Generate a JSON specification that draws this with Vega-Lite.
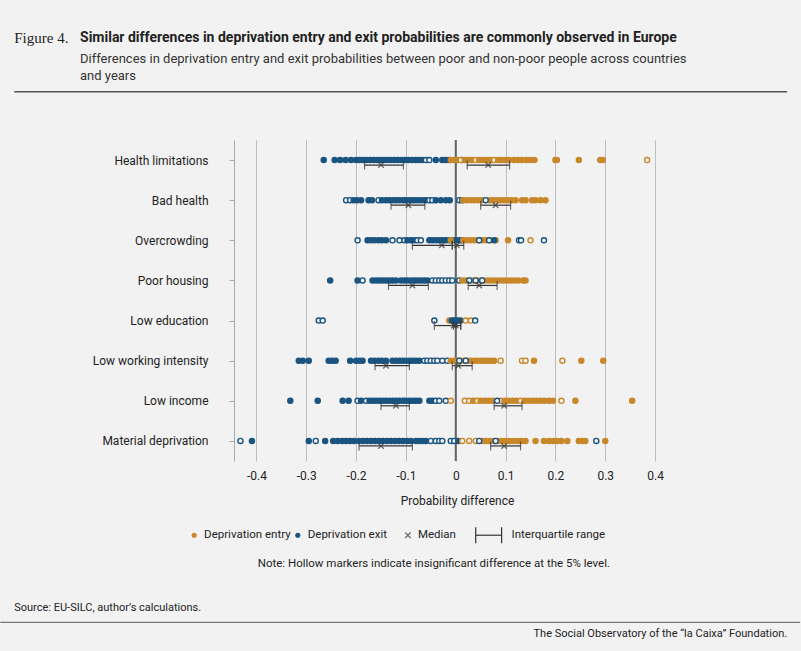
{
  "$schema": "https://vega.github.io/schema/vega-lite/v6.json",
  "width": 446,
  "height": 321,
  "padding": {"left": 234, "top": 140, "right": 121, "bottom": 190},
  "autosize": {"type": "none"},
  "background": "#f2f2f2",
  "config": {"view": {"stroke": null}, "font": "Roboto", "text": {"font": "Roboto"}},
  "datasets": {
    "one": [{}],
    "pts": [
      {"c":"Health limitations","s":"exit","v":-0.265},{"c":"Health limitations","s":"exit","v":-0.243},{"c":"Health limitations","s":"exit","v":-0.232},{"c":"Health limitations","s":"exit","v":-0.221},{"c":"Health limitations","s":"exit","v":-0.21},{"c":"Health limitations","s":"exit","v":-0.2},{"c":"Health limitations","s":"exit","v":-0.193},{"c":"Health limitations","s":"exit","v":-0.186},{"c":"Health limitations","s":"exit","v":-0.179},{"c":"Health limitations","s":"exit","v":-0.172},{"c":"Health limitations","s":"exit","v":-0.165},{"c":"Health limitations","s":"exit","v":-0.158},{"c":"Health limitations","s":"exit","v":-0.151},{"c":"Health limitations","s":"exit","v":-0.144},{"c":"Health limitations","s":"exit","v":-0.137},{"c":"Health limitations","s":"exit","v":-0.13},{"c":"Health limitations","s":"exit","v":-0.123},{"c":"Health limitations","s":"exit","v":-0.116},{"c":"Health limitations","s":"exit","v":-0.109},{"c":"Health limitations","s":"exit","v":-0.102},{"c":"Health limitations","s":"exit","v":-0.095},{"c":"Health limitations","s":"exit","v":-0.088},{"c":"Health limitations","s":"exit","v":-0.081},{"c":"Health limitations","s":"exit","v":-0.074},{"c":"Health limitations","s":"exit","v":-0.067},{"c":"Health limitations","s":"exit","v":-0.06,"h":1},{"c":"Health limitations","s":"exit","v":-0.053,"h":1},{"c":"Health limitations","s":"exit","v":-0.04},{"c":"Health limitations","s":"exit","v":-0.027},{"c":"Health limitations","s":"exit","v":-0.02},{"c":"Health limitations","s":"exit","v":-0.013},{"c":"Health limitations","s":"exit","v":0.013,"h":1},
      {"c":"Health limitations","s":"entry","v":-0.01},{"c":"Health limitations","s":"entry","v":-0.004},{"c":"Health limitations","s":"entry","v":0.003},{"c":"Health limitations","s":"entry","v":0.01,"h":1},{"c":"Health limitations","s":"entry","v":0.018},{"c":"Health limitations","s":"entry","v":0.025},{"c":"Health limitations","s":"entry","v":0.032},{"c":"Health limitations","s":"entry","v":0.04,"h":1},{"c":"Health limitations","s":"entry","v":0.047},{"c":"Health limitations","s":"entry","v":0.055},{"c":"Health limitations","s":"entry","v":0.062},{"c":"Health limitations","s":"entry","v":0.07},{"c":"Health limitations","s":"entry","v":0.077,"h":1},{"c":"Health limitations","s":"entry","v":0.085},{"c":"Health limitations","s":"entry","v":0.092},{"c":"Health limitations","s":"entry","v":0.1},{"c":"Health limitations","s":"entry","v":0.107},{"c":"Health limitations","s":"entry","v":0.117},{"c":"Health limitations","s":"entry","v":0.125},{"c":"Health limitations","s":"entry","v":0.133},{"c":"Health limitations","s":"entry","v":0.142},{"c":"Health limitations","s":"entry","v":0.15},{"c":"Health limitations","s":"entry","v":0.158},{"c":"Health limitations","s":"entry","v":0.2},{"c":"Health limitations","s":"entry","v":0.203},{"c":"Health limitations","s":"entry","v":0.247},{"c":"Health limitations","s":"entry","v":0.29},{"c":"Health limitations","s":"entry","v":0.295},{"c":"Health limitations","s":"entry","v":0.384,"h":1},

      {"c":"Bad health","s":"exit","v":-0.22,"h":1},{"c":"Bad health","s":"exit","v":-0.212,"h":1},{"c":"Bad health","s":"exit","v":-0.205},{"c":"Bad health","s":"exit","v":-0.198},{"c":"Bad health","s":"exit","v":-0.19},{"c":"Bad health","s":"exit","v":-0.175},{"c":"Bad health","s":"exit","v":-0.168},{"c":"Bad health","s":"exit","v":-0.155,"h":1},{"c":"Bad health","s":"exit","v":-0.148},{"c":"Bad health","s":"exit","v":-0.14},{"c":"Bad health","s":"exit","v":-0.133},{"c":"Bad health","s":"exit","v":-0.126},{"c":"Bad health","s":"exit","v":-0.12},{"c":"Bad health","s":"exit","v":-0.113},{"c":"Bad health","s":"exit","v":-0.106},{"c":"Bad health","s":"exit","v":-0.1},{"c":"Bad health","s":"exit","v":-0.093},{"c":"Bad health","s":"exit","v":-0.086},{"c":"Bad health","s":"exit","v":-0.08},{"c":"Bad health","s":"exit","v":-0.073},{"c":"Bad health","s":"exit","v":-0.066},{"c":"Bad health","s":"exit","v":-0.06},{"c":"Bad health","s":"exit","v":-0.053,"h":1},{"c":"Bad health","s":"exit","v":-0.047,"h":1},{"c":"Bad health","s":"exit","v":-0.04},{"c":"Bad health","s":"exit","v":-0.03},{"c":"Bad health","s":"exit","v":-0.02},{"c":"Bad health","s":"exit","v":-0.012},{"c":"Bad health","s":"exit","v":0.007,"h":1},{"c":"Bad health","s":"exit","v":0.013,"h":1},
      {"c":"Bad health","s":"entry","v":0.015},{"c":"Bad health","s":"entry","v":0.022},{"c":"Bad health","s":"entry","v":0.03},{"c":"Bad health","s":"entry","v":0.037},{"c":"Bad health","s":"entry","v":0.045},{"c":"Bad health","s":"entry","v":0.052},{"c":"Bad health","s":"entry","v":0.068},{"c":"Bad health","s":"entry","v":0.075},{"c":"Bad health","s":"entry","v":0.082},{"c":"Bad health","s":"entry","v":0.09},{"c":"Bad health","s":"entry","v":0.097},{"c":"Bad health","s":"entry","v":0.105},{"c":"Bad health","s":"entry","v":0.112},{"c":"Bad health","s":"entry","v":0.12},{"c":"Bad health","s":"entry","v":0.133},{"c":"Bad health","s":"entry","v":0.14},{"c":"Bad health","s":"entry","v":0.153},{"c":"Bad health","s":"entry","v":0.16},{"c":"Bad health","s":"entry","v":0.17},{"c":"Bad health","s":"entry","v":0.18},{"c":"Bad health","s":"exit","v":0.06,"h":1},

      {"c":"Overcrowding","s":"exit","v":-0.197,"h":1},{"c":"Overcrowding","s":"exit","v":-0.177},{"c":"Overcrowding","s":"exit","v":-0.17},{"c":"Overcrowding","s":"exit","v":-0.163},{"c":"Overcrowding","s":"exit","v":-0.155},{"c":"Overcrowding","s":"exit","v":-0.148},{"c":"Overcrowding","s":"exit","v":-0.14},{"c":"Overcrowding","s":"exit","v":-0.127,"h":1},{"c":"Overcrowding","s":"exit","v":-0.113,"h":1},{"c":"Overcrowding","s":"exit","v":-0.103,"h":1},{"c":"Overcrowding","s":"exit","v":-0.097},{"c":"Overcrowding","s":"exit","v":-0.09},{"c":"Overcrowding","s":"exit","v":-0.083},{"c":"Overcrowding","s":"exit","v":-0.077,"h":1},{"c":"Overcrowding","s":"exit","v":-0.07,"h":1},{"c":"Overcrowding","s":"exit","v":-0.053},{"c":"Overcrowding","s":"exit","v":-0.047},{"c":"Overcrowding","s":"exit","v":-0.04},{"c":"Overcrowding","s":"exit","v":-0.033},{"c":"Overcrowding","s":"exit","v":-0.027},{"c":"Overcrowding","s":"exit","v":-0.02},{"c":"Overcrowding","s":"exit","v":-0.013},{"c":"Overcrowding","s":"exit","v":-0.007},{"c":"Overcrowding","s":"exit","v":0.0},{"c":"Overcrowding","s":"exit","v":0.007},{"c":"Overcrowding","s":"exit","v":0.013},
      {"c":"Overcrowding","s":"entry","v":-0.01},{"c":"Overcrowding","s":"entry","v":0.015},{"c":"Overcrowding","s":"entry","v":0.022},{"c":"Overcrowding","s":"entry","v":0.03},{"c":"Overcrowding","s":"entry","v":0.037},{"c":"Overcrowding","s":"entry","v":0.045,"h":1},{"c":"Overcrowding","s":"entry","v":0.053},{"c":"Overcrowding","s":"entry","v":0.06},{"c":"Overcrowding","s":"entry","v":0.068,"h":1},{"c":"Overcrowding","s":"entry","v":0.08},{"c":"Overcrowding","s":"entry","v":0.105},{"c":"Overcrowding","s":"entry","v":0.15,"h":1},
      {"c":"Overcrowding","s":"exit","v":0.047,"h":1},{"c":"Overcrowding","s":"exit","v":0.067,"h":1},{"c":"Overcrowding","s":"exit","v":0.077},{"c":"Overcrowding","s":"exit","v":0.127,"h":1},{"c":"Overcrowding","s":"exit","v":0.131,"h":1},{"c":"Overcrowding","s":"exit","v":0.177,"h":1},

      {"c":"Poor housing","s":"exit","v":-0.252},{"c":"Poor housing","s":"exit","v":-0.197},{"c":"Poor housing","s":"exit","v":-0.187,"h":1},{"c":"Poor housing","s":"exit","v":-0.167},{"c":"Poor housing","s":"exit","v":-0.16},{"c":"Poor housing","s":"exit","v":-0.153},{"c":"Poor housing","s":"exit","v":-0.147},{"c":"Poor housing","s":"exit","v":-0.14},{"c":"Poor housing","s":"exit","v":-0.133},{"c":"Poor housing","s":"exit","v":-0.127},{"c":"Poor housing","s":"exit","v":-0.12},{"c":"Poor housing","s":"exit","v":-0.11},{"c":"Poor housing","s":"exit","v":-0.103},{"c":"Poor housing","s":"exit","v":-0.097},{"c":"Poor housing","s":"exit","v":-0.09},{"c":"Poor housing","s":"exit","v":-0.083},{"c":"Poor housing","s":"exit","v":-0.077},{"c":"Poor housing","s":"exit","v":-0.07},{"c":"Poor housing","s":"exit","v":-0.063},{"c":"Poor housing","s":"exit","v":-0.057},{"c":"Poor housing","s":"exit","v":-0.047,"h":1},{"c":"Poor housing","s":"exit","v":-0.04,"h":1},{"c":"Poor housing","s":"exit","v":-0.033,"h":1},{"c":"Poor housing","s":"exit","v":-0.027,"h":1},{"c":"Poor housing","s":"exit","v":-0.02,"h":1},{"c":"Poor housing","s":"exit","v":-0.013,"h":1},{"c":"Poor housing","s":"exit","v":-0.007,"h":1},{"c":"Poor housing","s":"exit","v":0.007,"h":1},
      {"c":"Poor housing","s":"entry","v":0.013},{"c":"Poor housing","s":"entry","v":0.02},{"c":"Poor housing","s":"entry","v":0.028},{"c":"Poor housing","s":"entry","v":0.035},{"c":"Poor housing","s":"entry","v":0.042},{"c":"Poor housing","s":"entry","v":0.05},{"c":"Poor housing","s":"entry","v":0.057},{"c":"Poor housing","s":"entry","v":0.065},{"c":"Poor housing","s":"entry","v":0.072},{"c":"Poor housing","s":"entry","v":0.08},{"c":"Poor housing","s":"entry","v":0.087},{"c":"Poor housing","s":"entry","v":0.095},{"c":"Poor housing","s":"entry","v":0.102},{"c":"Poor housing","s":"entry","v":0.11},{"c":"Poor housing","s":"entry","v":0.117},{"c":"Poor housing","s":"entry","v":0.125},{"c":"Poor housing","s":"entry","v":0.135},{"c":"Poor housing","s":"entry","v":0.14},
      {"c":"Poor housing","s":"exit","v":0.027,"h":1},{"c":"Poor housing","s":"exit","v":0.04,"h":1},{"c":"Poor housing","s":"exit","v":0.053,"h":1},

      {"c":"Low education","s":"exit","v":-0.275,"h":1},{"c":"Low education","s":"exit","v":-0.267,"h":1},{"c":"Low education","s":"exit","v":-0.043,"h":1},{"c":"Low education","s":"entry","v":-0.013},{"c":"Low education","s":"entry","v":-0.005},{"c":"Low education","s":"exit","v":-0.008},{"c":"Low education","s":"exit","v":-0.002},{"c":"Low education","s":"exit","v":0.004},{"c":"Low education","s":"exit","v":0.01},{"c":"Low education","s":"entry","v":0.02,"h":1},{"c":"Low education","s":"entry","v":0.03,"h":1},{"c":"Low education","s":"exit","v":0.039,"h":1},

      {"c":"Low working intensity","s":"exit","v":-0.315},{"c":"Low working intensity","s":"exit","v":-0.307},{"c":"Low working intensity","s":"exit","v":-0.295},{"c":"Low working intensity","s":"exit","v":-0.255},{"c":"Low working intensity","s":"exit","v":-0.248},{"c":"Low working intensity","s":"exit","v":-0.241},{"c":"Low working intensity","s":"exit","v":-0.212},{"c":"Low working intensity","s":"exit","v":-0.2},{"c":"Low working intensity","s":"exit","v":-0.193},{"c":"Low working intensity","s":"exit","v":-0.187},{"c":"Low working intensity","s":"exit","v":-0.17},{"c":"Low working intensity","s":"exit","v":-0.163},{"c":"Low working intensity","s":"exit","v":-0.155},{"c":"Low working intensity","s":"exit","v":-0.148},{"c":"Low working intensity","s":"exit","v":-0.14},{"c":"Low working intensity","s":"exit","v":-0.127},{"c":"Low working intensity","s":"exit","v":-0.12},{"c":"Low working intensity","s":"exit","v":-0.113},{"c":"Low working intensity","s":"exit","v":-0.107},{"c":"Low working intensity","s":"exit","v":-0.1},{"c":"Low working intensity","s":"exit","v":-0.093},{"c":"Low working intensity","s":"exit","v":-0.087},{"c":"Low working intensity","s":"exit","v":-0.08},{"c":"Low working intensity","s":"exit","v":-0.073},{"c":"Low working intensity","s":"exit","v":-0.063,"h":1},{"c":"Low working intensity","s":"exit","v":-0.057,"h":1},{"c":"Low working intensity","s":"exit","v":-0.05,"h":1},{"c":"Low working intensity","s":"exit","v":-0.043,"h":1},{"c":"Low working intensity","s":"exit","v":-0.037,"h":1},{"c":"Low working intensity","s":"exit","v":-0.027,"h":1},{"c":"Low working intensity","s":"exit","v":-0.017,"h":1},
      {"c":"Low working intensity","s":"entry","v":-0.01},{"c":"Low working intensity","s":"entry","v":-0.003},{"c":"Low working intensity","s":"entry","v":0.003},{"c":"Low working intensity","s":"entry","v":0.01},{"c":"Low working intensity","s":"entry","v":0.017},{"c":"Low working intensity","s":"entry","v":0.023},{"c":"Low working intensity","s":"entry","v":0.03},{"c":"Low working intensity","s":"entry","v":0.037},{"c":"Low working intensity","s":"entry","v":0.043},{"c":"Low working intensity","s":"entry","v":0.05},{"c":"Low working intensity","s":"entry","v":0.057},{"c":"Low working intensity","s":"entry","v":0.063},{"c":"Low working intensity","s":"entry","v":0.07},{"c":"Low working intensity","s":"entry","v":0.077},{"c":"Low working intensity","s":"entry","v":0.09,"h":1},{"c":"Low working intensity","s":"entry","v":0.133,"h":1},{"c":"Low working intensity","s":"entry","v":0.14,"h":1},{"c":"Low working intensity","s":"entry","v":0.157},{"c":"Low working intensity","s":"entry","v":0.214,"h":1},{"c":"Low working intensity","s":"entry","v":0.252},{"c":"Low working intensity","s":"entry","v":0.296},
      {"c":"Low working intensity","s":"exit","v":0.007,"h":1},{"c":"Low working intensity","s":"exit","v":0.02,"h":1},

      {"c":"Low income","s":"exit","v":-0.332},{"c":"Low income","s":"exit","v":-0.277},{"c":"Low income","s":"exit","v":-0.227},{"c":"Low income","s":"exit","v":-0.215},{"c":"Low income","s":"exit","v":-0.197,"h":1},{"c":"Low income","s":"exit","v":-0.19},{"c":"Low income","s":"exit","v":-0.18,"h":1},{"c":"Low income","s":"exit","v":-0.173},{"c":"Low income","s":"exit","v":-0.166},{"c":"Low income","s":"exit","v":-0.16},{"c":"Low income","s":"exit","v":-0.153},{"c":"Low income","s":"exit","v":-0.146},{"c":"Low income","s":"exit","v":-0.14},{"c":"Low income","s":"exit","v":-0.133},{"c":"Low income","s":"exit","v":-0.126},{"c":"Low income","s":"exit","v":-0.12},{"c":"Low income","s":"exit","v":-0.113},{"c":"Low income","s":"exit","v":-0.106},{"c":"Low income","s":"exit","v":-0.1},{"c":"Low income","s":"exit","v":-0.093},{"c":"Low income","s":"exit","v":-0.086},{"c":"Low income","s":"exit","v":-0.08},{"c":"Low income","s":"exit","v":-0.073},{"c":"Low income","s":"exit","v":-0.053},{"c":"Low income","s":"exit","v":-0.047},{"c":"Low income","s":"exit","v":-0.04,"h":1},{"c":"Low income","s":"exit","v":-0.033,"h":1},{"c":"Low income","s":"exit","v":-0.02,"h":1},
      {"c":"Low income","s":"entry","v":-0.01,"h":1},{"c":"Low income","s":"entry","v":0.018,"h":1},{"c":"Low income","s":"entry","v":0.027,"h":1},{"c":"Low income","s":"entry","v":0.035},{"c":"Low income","s":"entry","v":0.043,"h":1},{"c":"Low income","s":"entry","v":0.05},{"c":"Low income","s":"entry","v":0.058},{"c":"Low income","s":"entry","v":0.066},{"c":"Low income","s":"entry","v":0.074},{"c":"Low income","s":"entry","v":0.09,"h":1},{"c":"Low income","s":"entry","v":0.098},{"c":"Low income","s":"entry","v":0.106},{"c":"Low income","s":"entry","v":0.114},{"c":"Low income","s":"entry","v":0.122},{"c":"Low income","s":"entry","v":0.13,"h":1},{"c":"Low income","s":"entry","v":0.138},{"c":"Low income","s":"entry","v":0.146},{"c":"Low income","s":"entry","v":0.154},{"c":"Low income","s":"entry","v":0.162},{"c":"Low income","s":"entry","v":0.17},{"c":"Low income","s":"entry","v":0.178},{"c":"Low income","s":"entry","v":0.187},{"c":"Low income","s":"entry","v":0.195},{"c":"Low income","s":"entry","v":0.212,"h":1},{"c":"Low income","s":"entry","v":0.24},{"c":"Low income","s":"entry","v":0.354},
      {"c":"Low income","s":"exit","v":0.083,"h":1},

      {"c":"Material deprivation","s":"exit","v":-0.432,"h":1},{"c":"Material deprivation","s":"exit","v":-0.409},{"c":"Material deprivation","s":"exit","v":-0.295},{"c":"Material deprivation","s":"exit","v":-0.281,"h":1},{"c":"Material deprivation","s":"exit","v":-0.262},{"c":"Material deprivation","s":"exit","v":-0.246},{"c":"Material deprivation","s":"exit","v":-0.237},{"c":"Material deprivation","s":"exit","v":-0.228},{"c":"Material deprivation","s":"exit","v":-0.22},{"c":"Material deprivation","s":"exit","v":-0.212},{"c":"Material deprivation","s":"exit","v":-0.204},{"c":"Material deprivation","s":"exit","v":-0.194},{"c":"Material deprivation","s":"exit","v":-0.186},{"c":"Material deprivation","s":"exit","v":-0.178},{"c":"Material deprivation","s":"exit","v":-0.17},{"c":"Material deprivation","s":"exit","v":-0.162},{"c":"Material deprivation","s":"exit","v":-0.154},{"c":"Material deprivation","s":"exit","v":-0.146},{"c":"Material deprivation","s":"exit","v":-0.138},{"c":"Material deprivation","s":"exit","v":-0.13},{"c":"Material deprivation","s":"exit","v":-0.122},{"c":"Material deprivation","s":"exit","v":-0.114},{"c":"Material deprivation","s":"exit","v":-0.106},{"c":"Material deprivation","s":"exit","v":-0.098},{"c":"Material deprivation","s":"exit","v":-0.09},{"c":"Material deprivation","s":"exit","v":-0.08},{"c":"Material deprivation","s":"exit","v":-0.073},{"c":"Material deprivation","s":"exit","v":-0.066},{"c":"Material deprivation","s":"exit","v":-0.06},{"c":"Material deprivation","s":"exit","v":-0.05,"h":1},{"c":"Material deprivation","s":"exit","v":-0.04,"h":1},{"c":"Material deprivation","s":"exit","v":-0.033,"h":1},{"c":"Material deprivation","s":"exit","v":-0.027,"h":1},{"c":"Material deprivation","s":"exit","v":-0.01,"h":1},{"c":"Material deprivation","s":"exit","v":-0.003,"h":1},{"c":"Material deprivation","s":"exit","v":0.005},
      {"c":"Material deprivation","s":"entry","v":0.013,"h":1},{"c":"Material deprivation","s":"entry","v":0.027,"h":1},{"c":"Material deprivation","s":"entry","v":0.04,"h":1},{"c":"Material deprivation","s":"entry","v":0.053},{"c":"Material deprivation","s":"entry","v":0.06},{"c":"Material deprivation","s":"entry","v":0.068},{"c":"Material deprivation","s":"entry","v":0.076},{"c":"Material deprivation","s":"entry","v":0.084},{"c":"Material deprivation","s":"entry","v":0.092},{"c":"Material deprivation","s":"entry","v":0.1},{"c":"Material deprivation","s":"entry","v":0.108},{"c":"Material deprivation","s":"entry","v":0.116},{"c":"Material deprivation","s":"entry","v":0.124},{"c":"Material deprivation","s":"entry","v":0.132},{"c":"Material deprivation","s":"entry","v":0.14},{"c":"Material deprivation","s":"entry","v":0.16},{"c":"Material deprivation","s":"entry","v":0.177},{"c":"Material deprivation","s":"entry","v":0.187},{"c":"Material deprivation","s":"entry","v":0.195},{"c":"Material deprivation","s":"entry","v":0.203},{"c":"Material deprivation","s":"entry","v":0.212},{"c":"Material deprivation","s":"entry","v":0.224},{"c":"Material deprivation","s":"entry","v":0.247},{"c":"Material deprivation","s":"entry","v":0.254},{"c":"Material deprivation","s":"entry","v":0.26},{"c":"Material deprivation","s":"entry","v":0.3},
      {"c":"Material deprivation","s":"exit","v":0.047,"h":1},{"c":"Material deprivation","s":"exit","v":0.08,"h":1},{"c":"Material deprivation","s":"exit","v":0.282,"h":1}
    ],
    "stats": [
      {"c":"Health limitations","s":"exit","lo":-0.183,"med":-0.15,"hi":-0.105},
      {"c":"Health limitations","s":"entry","lo":0.023,"med":0.065,"hi":0.108},
      {"c":"Bad health","s":"exit","lo":-0.13,"med":-0.095,"hi":-0.062},
      {"c":"Bad health","s":"entry","lo":0.05,"med":0.08,"hi":0.11},
      {"c":"Overcrowding","s":"exit","lo":-0.087,"med":-0.028,"hi":-0.007},
      {"c":"Overcrowding","s":"entry","lo":-0.007,"med":0.002,"hi":0.016},
      {"c":"Poor housing","s":"exit","lo":-0.135,"med":-0.087,"hi":-0.055},
      {"c":"Poor housing","s":"entry","lo":0.025,"med":0.047,"hi":0.083},
      {"c":"Low education","s":"exit","lo":-0.043,"med":-0.004,"hi":0.01},
      {"c":"Low education","s":"entry","lo":-0.005,"med":0.0,"hi":0.01},
      {"c":"Low working intensity","s":"exit","lo":-0.162,"med":-0.14,"hi":-0.093},
      {"c":"Low working intensity","s":"entry","lo":-0.007,"med":0.005,"hi":0.033},
      {"c":"Low income","s":"exit","lo":-0.15,"med":-0.12,"hi":-0.093},
      {"c":"Low income","s":"entry","lo":0.077,"med":0.097,"hi":0.133},
      {"c":"Material deprivation","s":"exit","lo":-0.194,"med":-0.15,"hi":-0.087},
      {"c":"Material deprivation","s":"entry","lo":0.07,"med":0.097,"hi":0.13}
    ]
  },
  "encoding": {
    "x": {"type": "quantitative", "scale": {"domain": [-0.445, 0.45], "nice": false, "zero": false}},
    "y": {"type": "quantitative", "scale": {"domain": [0.5, 8.5], "reverse": true, "nice": false, "zero": false}}
  },
  "layer": [
    {
      "data": {"name": "stats"},
      "transform": [{"calculate": "indexof(['Health limitations','Bad health','Overcrowding','Poor housing','Low education','Low working intensity','Low income','Material deprivation'], datum.c) + 1", "as": "r"}],
      "mark": {"type": "rule", "yOffset": 5, "color": "#333", "strokeWidth": 1.2},
      "encoding": {
        "x": {"field": "lo", "type": "quantitative",
          "axis": {"values": [-0.4,-0.3,-0.2,-0.1,0,0.1,0.2,0.3,0.4], "labelExpr": "datum.value == 0 ? '0' : (datum.value < 0 ? '-' : '') + format(abs(datum.value), '.1f')", "grid": true, "gridColor": "#bdbdbd", "gridWidth": 1, "domain": false, "ticks": false, "labelPadding": 9, "labelFontSize": 12, "labelColor": "#222", "title": "Probability difference", "titleFontWeight": "normal", "titleFontSize": 12, "titleColor": "#222", "titlePadding": 14}},
        "x2": {"field": "hi"},
        "y": {"field": "r", "type": "quantitative",
          "axis": {"values": [1,2,3,4,5,6,7,8], "labelExpr": "['Health limitations','Bad health','Overcrowding','Poor housing','Low education','Low working intensity','Low income','Material deprivation'][datum.value - 1]", "grid": false, "domain": true, "domainColor": "#aaa", "ticks": true, "tickColor": "#aaa", "tickSize": 5, "labelPadding": 21, "labelFontSize": 12, "labelColor": "#222", "title": null}}
      }
    },
    {
      "data": {"name": "one"},
      "mark": {"type": "rule", "color": "#666", "strokeWidth": 2},
      "encoding": {"x": {"datum": 0}}
    },
    {
      "data": {"name": "pts"},
      "transform": [{"calculate": "indexof(['Health limitations','Bad health','Overcrowding','Poor housing','Low education','Low working intensity','Low income','Material deprivation'], datum.c) + 1", "as": "r"}],
      "mark": {"type": "point", "filled": true, "size": 26, "strokeWidth": 1.4, "opacity": 1},
      "encoding": {
        "x": {"field": "v", "type": "quantitative"},
        "y": {"field": "r", "type": "quantitative"},
        "stroke": {"field": "s", "type": "nominal", "scale": {"domain": ["entry","exit"], "range": ["#c8882a","#1a5480"]}, "legend": null},
        "fill": {"condition": {"test": "datum.h == 1", "value": "#f2f2f2"}, "field": "s", "type": "nominal", "scale": {"domain": ["entry","exit"], "range": ["#c8882a","#1a5480"]}, "legend": null}
      }
    },
    {
      "data": {"name": "stats"},
      "transform": [{"calculate": "indexof(['Health limitations','Bad health','Overcrowding','Poor housing','Low education','Low working intensity','Low income','Material deprivation'], datum.c) + 1", "as": "r"}, {"fold": ["lo","hi"], "as": ["k","e"]}],
      "mark": {"type": "point", "shape": "M0,-1L0,1", "size": 80, "stroke": "#333", "strokeWidth": 1.2, "yOffset": 5},
      "encoding": {"x": {"field": "e", "type": "quantitative"}, "y": {"field": "r", "type": "quantitative"}}
    },
    {
      "data": {"name": "stats"},
      "transform": [{"calculate": "indexof(['Health limitations','Bad health','Overcrowding','Poor housing','Low education','Low working intensity','Low income','Material deprivation'], datum.c) + 1", "as": "r"}],
      "mark": {"type": "point", "shape": "M-1,-1L1,1M1,-1L-1,1", "size": 30, "stroke": "#333", "strokeWidth": 1.3, "yOffset": 5},
      "encoding": {"x": {"field": "med", "type": "quantitative"}, "y": {"field": "r", "type": "quantitative"}}
    },
    {"data": {"name": "one"}, "mark": {"type": "text", "text": "Figure 4.", "font": "Liberation Serif", "fontSize": 15, "align": "left", "baseline": "middle", "color": "#222"}, "encoding": {"x": {"datum": -0.886}, "y": {"datum": -2.04}}},
    {"data": {"name": "one"}, "mark": {"type": "text", "text": "Similar differences in deprivation entry and exit probabilities are commonly observed in Europe", "fontSize": 14, "fontWeight": "bold", "align": "left", "baseline": "middle", "color": "#222"}, "encoding": {"x": {"datum": -0.754}, "y": {"datum": -2.04}}},
    {"data": {"name": "one"}, "mark": {"type": "text", "text": "Differences in deprivation entry and exit probabilities between poor and non-poor people across countries", "fontSize": 13, "align": "left", "baseline": "middle", "color": "#333"}, "encoding": {"x": {"datum": -0.754}, "y": {"datum": -1.52}}},
    {"data": {"name": "one"}, "mark": {"type": "text", "text": "and years", "fontSize": 13, "align": "left", "baseline": "middle", "color": "#333"}, "encoding": {"x": {"datum": -0.754}, "y": {"datum": -1.1}}},
    {"data": {"name": "one"}, "mark": {"type": "rule", "color": "#555", "strokeWidth": 1.5}, "encoding": {"x": {"datum": -0.886}, "x2": {"datum": 0.665}, "y": {"datum": -0.7}}},
    {"data": {"name": "one"}, "mark": {"type": "point", "filled": true, "size": 26, "color": "#c8882a", "opacity": 1}, "encoding": {"x": {"datum": -0.525}, "y": {"datum": 10.35}}},
    {"data": {"name": "one"}, "mark": {"type": "text", "text": "Deprivation entry", "fontSize": 11.5, "align": "left", "baseline": "middle", "color": "#222"}, "encoding": {"x": {"datum": -0.505}, "y": {"datum": 10.35}}},
    {"data": {"name": "one"}, "mark": {"type": "point", "filled": true, "size": 26, "color": "#1a5480", "opacity": 1}, "encoding": {"x": {"datum": -0.317}, "y": {"datum": 10.35}}},
    {"data": {"name": "one"}, "mark": {"type": "text", "text": "Deprivation exit", "fontSize": 11.5, "align": "left", "baseline": "middle", "color": "#222"}, "encoding": {"x": {"datum": -0.297}, "y": {"datum": 10.35}}},
    {"data": {"name": "one"}, "mark": {"type": "point", "shape": "M-1,-1L1,1M1,-1L-1,1", "size": 30, "stroke": "#333", "strokeWidth": 1.2}, "encoding": {"x": {"datum": -0.096}, "y": {"datum": 10.35}}},
    {"data": {"name": "one"}, "mark": {"type": "text", "text": "Median", "fontSize": 11.5, "align": "left", "baseline": "middle", "color": "#222"}, "encoding": {"x": {"datum": -0.076}, "y": {"datum": 10.35}}},
    {"data": {"name": "one"}, "mark": {"type": "rule", "color": "#333", "strokeWidth": 1.2}, "encoding": {"x": {"datum": 0.04}, "x2": {"datum": 0.092}, "y": {"datum": 10.35}}},
    {"data": {"name": "one"}, "mark": {"type": "rule", "color": "#333", "strokeWidth": 1.2}, "encoding": {"x": {"datum": 0.04}, "y": {"datum": 10.15}, "y2": {"datum": 10.55}}},
    {"data": {"name": "one"}, "mark": {"type": "rule", "color": "#333", "strokeWidth": 1.2}, "encoding": {"x": {"datum": 0.092}, "y": {"datum": 10.15}, "y2": {"datum": 10.55}}},
    {"data": {"name": "one"}, "mark": {"type": "text", "text": "Interquartile range", "fontSize": 11.5, "align": "left", "baseline": "middle", "color": "#222"}, "encoding": {"x": {"datum": 0.112}, "y": {"datum": 10.35}}},
    {"data": {"name": "one"}, "mark": {"type": "text", "text": "Note: Hollow markers indicate insignificant difference at the 5% level.", "fontSize": 11.5, "align": "center", "baseline": "middle", "color": "#222"}, "encoding": {"x": {"datum": -0.044}, "y": {"datum": 11.07}}},
    {"data": {"name": "one"}, "mark": {"type": "text", "text": "Source: EU-SILC, author’s calculations.", "fontSize": 11, "align": "left", "baseline": "middle", "color": "#222"}, "encoding": {"x": {"datum": -0.886}, "y": {"datum": 12.17}}},
    {"data": {"name": "one"}, "mark": {"type": "rule", "color": "#555", "strokeWidth": 1}, "encoding": {"x": {"datum": -0.914}, "x2": {"datum": 0.691}, "y": {"datum": 12.52}}},
    {"data": {"name": "one"}, "mark": {"type": "text", "text": "The Social Observatory of the “la Caixa” Foundation.", "fontSize": 11, "align": "right", "baseline": "middle", "color": "#222"}, "encoding": {"x": {"datum": 0.665}, "y": {"datum": 12.82}}}
  ]
}
